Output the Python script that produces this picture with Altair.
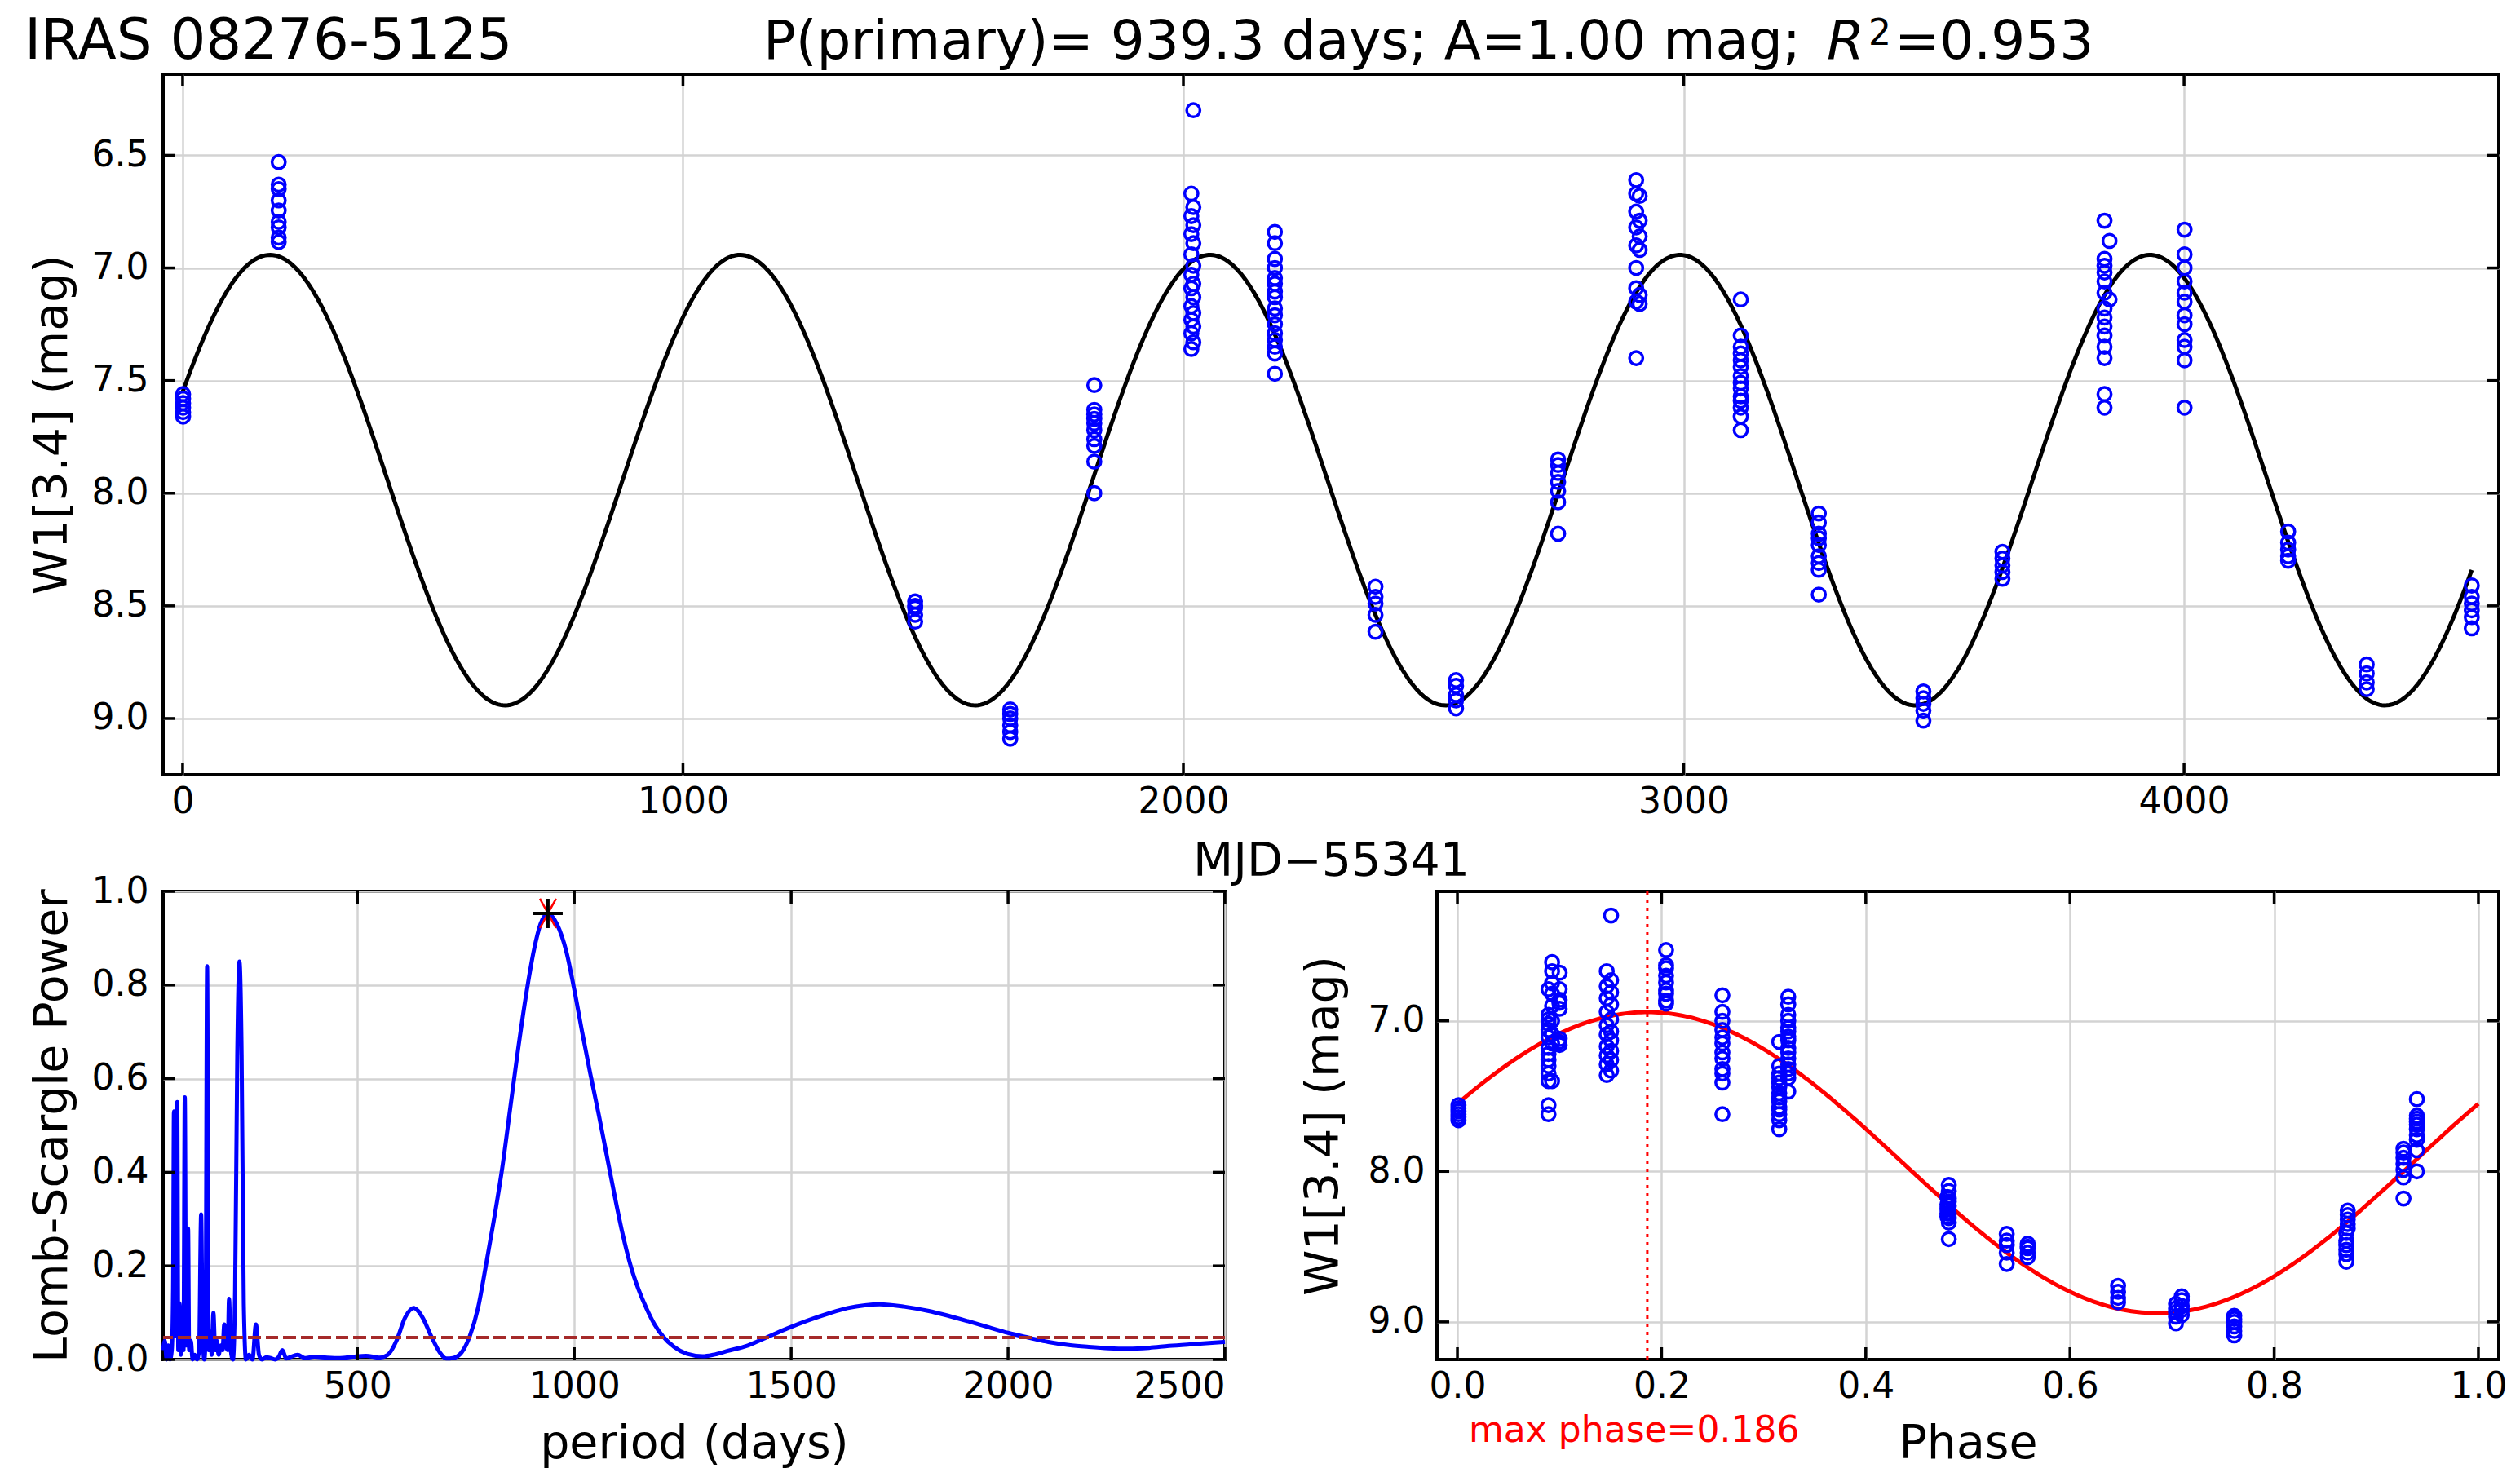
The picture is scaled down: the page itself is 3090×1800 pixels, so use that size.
import altair as alt
import numpy as np
import pandas as pd

# ---------------- data ----------------
EPOCH_T = [1, 192, 1464, 1654, 1822, 2016, 2020, 2183, 2384, 2545, 2749, 2905, 2912,
           3114, 3270, 3479, 3637, 3841, 3851, 4001, 4208, 4365, 4575]
EPOCH_W1 = [
    [7.56, 7.58, 7.60, 7.62, 7.64, 7.66],
    [6.53, 6.63, 6.65, 6.70, 6.745, 6.795, 6.82, 6.865, 6.885],
    [8.48, 8.50, 8.51, 8.54, 8.57],
    [8.96, 8.98, 9.00, 9.03, 9.06, 9.09],
    [7.52, 7.63, 7.65, 7.67, 7.69, 7.72, 7.76, 7.79, 7.86, 8.00],
    [6.67, 6.77, 6.85, 6.94, 7.03, 7.09, 7.17, 7.23, 7.29, 7.36],
    [6.30, 6.73, 6.81, 6.89, 6.99, 7.07, 7.13, 7.20, 7.26, 7.33],
    [6.84, 6.89, 6.96, 7.00, 7.045, 7.07, 7.105, 7.13, 7.18, 7.21, 7.25, 7.29, 7.32, 7.35, 7.38, 7.47],
    [8.415, 8.46, 8.49, 8.54, 8.615],
    [8.83, 8.855, 8.895, 8.92, 8.955],
    [7.85, 7.875, 7.91, 7.95, 7.99, 8.04, 8.18],
    [6.61, 6.67, 6.75, 6.82, 6.90, 7.00, 7.09, 7.15, 7.40],
    [6.68, 6.79, 6.86, 6.92, 7.12, 7.16],
    [7.14, 7.30, 7.35, 7.38, 7.41, 7.44, 7.48, 7.51, 7.535, 7.57, 7.59, 7.62, 7.66, 7.72],
    [8.09, 8.13, 8.18, 8.20, 8.23, 8.28, 8.31, 8.34, 8.45],
    [8.88, 8.91, 8.935, 8.965, 9.01],
    [8.26, 8.29, 8.32, 8.35, 8.38],
    [6.79, 6.96, 6.99, 7.02, 7.06, 7.11, 7.18, 7.22, 7.26, 7.30, 7.35, 7.40, 7.56, 7.62],
    [6.88, 7.14],
    [6.83, 6.94, 7.00, 7.06, 7.11, 7.15, 7.21, 7.25, 7.32, 7.35, 7.41, 7.62],
    [8.17, 8.22, 8.25, 8.28, 8.30],
    [8.76, 8.80, 8.84, 8.87],
    [8.41, 8.46, 8.49, 8.52, 8.55, 8.60],
]

# fitted model parameters (title / annotation)
PERIOD = 939.3
AMPLITUDE = 1.00
MEAN_MAG = 7.942
MAX_PHASE = 0.186
R2 = 0.953
FAP_LEVEL = 0.047

# Lomb-Scargle periodogram
LS_PERIOD = [52, 56, 60, 64, 68, 72, 75, 77, 79, 82, 84.6, 87, 90, 93, 96, 99, 102, 105, 107,
             109.6, 112, 116, 120, 125, 130, 135, 139.7, 143, 147, 150, 153.5, 157, 161, 164,
             168, 172, 176, 180, 185, 189, 193, 197, 201, 204, 208, 213, 218, 223, 228, 233,
             238, 243, 250, 258, 266, 273, 280, 290, 300, 310, 318, 327, 336, 345, 362, 380,
             400, 430, 460, 490, 520, 550, 570, 590, 610, 630, 650, 670, 690, 705, 720, 740,
             759, 778, 796, 815, 834, 852, 870, 889, 907, 922, 939.3, 960, 982, 1000, 1018,
             1037, 1056, 1075, 1093, 1111, 1130, 1148, 1167, 1185, 1204, 1230, 1259, 1296,
             1320, 1352, 1400, 1445, 1490, 1537, 1585, 1630, 1670, 1704, 1760, 1815, 1860,
             1907, 1955, 2000, 2046, 2093, 2140, 2186, 2232, 2278, 2325, 2371, 2430, 2500]
LS_POWER = [0.02, 0.04, 0.0, 0.03, 0.0, 0.02, 0.15, 0.53, 0.05, 0.10, 0.55, 0.02, 0.12, 0.01,
            0.04, 0.02, 0.56, 0.03, 0.05, 0.28, 0.02, 0.04, 0.0, 0.01, 0.0, 0.02, 0.31, 0.06,
            0.0, 0.05, 0.84, 0.02, 0.06, 0.01, 0.10, 0.02, 0.04, 0.01, 0.03, 0.02, 0.075, 0.03,
            0.02, 0.13, 0.02, 0.0, 0.15, 0.65, 0.85, 0.65, 0.12, 0.0, 0.01, 0.0, 0.075, 0.01,
            0.0, 0.005, 0.003, 0.0, 0.005, 0.02, 0.002, 0.005, 0.01, 0.003, 0.006, 0.004,
            0.003, 0.006, 0.008, 0.004, 0.01, 0.04, 0.09, 0.11, 0.09, 0.05, 0.015, 0.002,
            0.003, 0.015, 0.05, 0.11, 0.20, 0.30, 0.41, 0.535, 0.66, 0.78, 0.875, 0.93, 0.953,
            0.93, 0.87, 0.79, 0.70, 0.61, 0.525, 0.435, 0.35, 0.27, 0.20, 0.15, 0.108, 0.075,
            0.05, 0.027, 0.0125, 0.007, 0.01, 0.018, 0.03, 0.048, 0.066, 0.083, 0.098, 0.11,
            0.116, 0.118, 0.113, 0.104, 0.094, 0.082, 0.069, 0.057, 0.047, 0.0375, 0.031,
            0.027, 0.024, 0.023, 0.025, 0.029, 0.033, 0.0375]

TOP_X_TICKS = [0, 1000, 2000, 3000, 4000]
TOP_Y_TICKS = [6.5, 7.0, 7.5, 8.0, 8.5, 9.0]
LS_X_TICKS = [500, 1000, 1500, 2000, 2500]
LS_Y_TICKS = [0.0, 0.2, 0.4, 0.6, 0.8, 1.0]
PH_X_TICKS = [0.0, 0.2, 0.4, 0.6, 0.8, 1.0]
PH_Y_TICKS = [7.0, 8.0, 9.0]

FONT = "DejaVu Sans"
BLUE = "#0000ff"

# ---------------- tables ----------------
rows = []
for t, mags in zip(EPOCH_T, EPOCH_W1):
    for m in mags:
        rows.append({"t": t, "w1": m, "phase": (t % PERIOD) / PERIOD})
pts = pd.DataFrame(rows)

t_model = np.arange(0, 4576, 5.0)
model_top = pd.DataFrame({"t": t_model,
                          "w1": MEAN_MAG - AMPLITUDE * np.cos(2 * np.pi * (t_model / PERIOD - MAX_PHASE))})
ph_model = np.linspace(0, 1, 301)
model_ph = pd.DataFrame({"phase": ph_model,
                         "w1": MEAN_MAG - AMPLITUDE * np.cos(2 * np.pi * (ph_model - MAX_PHASE))})
ls = pd.DataFrame({"period": LS_PERIOD, "power": LS_POWER})
peak = pd.DataFrame({"period": [PERIOD], "power": [R2]})

# ---------------- sizes ----------------
W_TOP, H_TOP = 2864, 859
W_BOT, H_BOT = 1302, 574
TL = 15

sx_top = alt.Scale(domain=[-39, 4629], nice=False, zero=False)
sy_mag = alt.Scale(domain=[6.14, 9.25], reverse=True, nice=False, zero=False)
sx_ls = alt.Scale(domain=[52, 2500], nice=False, zero=False)
sy_ls = alt.Scale(domain=[0, 1], nice=False)
sx_ph = alt.Scale(domain=[-0.02, 1.02], nice=False, zero=False)

XLP = 11
ax_top_x = alt.Axis(values=TOP_X_TICKS, format="d", title="MJD\u221255341",
                    labelPadding=XLP, titlePadding=23)
ax_top_y = alt.Axis(values=TOP_Y_TICKS, format=".1f", title="W1[3.4] (mag)",
                    labelPadding=18, titlePadding=19)
ax_ls_x = alt.Axis(values=LS_X_TICKS, format="d", title="period (days)",
                   labelPadding=XLP, titlePadding=20)
ax_ls_y = alt.Axis(values=LS_Y_TICKS, format=".1f", title="Lomb-Scargle Power",
                   labelPadding=18, titlePadding=19)
ax_ph_x = alt.Axis(values=PH_X_TICKS, format=".1f", title="Phase",
                   labelPadding=XLP, titlePadding=20)
ax_ph_y = alt.Axis(values=PH_Y_TICKS, format=".1f", title="W1[3.4] (mag)",
                   labelPadding=15, titlePadding=25)


def edge_ticks(xvals, yvals, xs, ys, xa, ya, w, h):
    xd = pd.DataFrame({"v": xvals})
    yd = pd.DataFrame({"v": yvals})
    base = dict(color="black", strokeWidth=3.5)
    xb = alt.Chart(xd).mark_rule(**base).encode(
        x=alt.X("v:Q", scale=xs, axis=xa), y=alt.value(h - TL), y2=alt.value(h))
    xt = alt.Chart(xd).mark_rule(**base).encode(
        x=alt.X("v:Q", scale=xs, axis=xa), y=alt.value(0), y2=alt.value(TL))
    yl = alt.Chart(yd).mark_rule(**base).encode(
        y=alt.Y("v:Q", scale=ys, axis=ya), x=alt.value(0), x2=alt.value(TL))
    yr = alt.Chart(yd).mark_rule(**base).encode(
        y=alt.Y("v:Q", scale=ys, axis=ya), x=alt.value(w - TL), x2=alt.value(w))
    return [xb, xt, yl, yr]


def text_layer(s, x, y, size, color="black", style="normal", align="left"):
    return alt.Chart(pd.DataFrame({"s": [s]})).mark_text(
        font=FONT, fontSize=size, color=color, fontStyle=style, align=align,
        baseline="alphabetic").encode(text="s:N", x=alt.value(x), y=alt.value(y))


# ---------------- top panel ----------------
top_line = alt.Chart(model_top).mark_line(color="black", strokeWidth=5).encode(
    x=alt.X("t:Q", scale=sx_top, axis=ax_top_x),
    y=alt.Y("w1:Q", scale=sy_mag, axis=ax_top_y),
)
top_pts = alt.Chart(pts).mark_point(shape="circle", size=265, strokeWidth=3.5,
                                    color=BLUE, filled=False, opacity=1).encode(
    x=alt.X("t:Q", scale=sx_top, axis=ax_top_x), y=alt.Y("w1:Q", scale=sy_mag, axis=ax_top_y))

TB = -18.6
titles = [
    text_layer("IRAS 08276-5125", -170, TB, 69),
    text_layer("P(primary)= 939.3 days; A=1.00 mag;", 736, TB, 66),
    text_layer("R", 2040, TB, 66, style="italic"),
    text_layer("2", 2091, TB - 17.3, 44),
    text_layer("=0.953", 2123, TB, 66),
]

top = alt.layer(top_line, top_pts,
                *edge_ticks(TOP_X_TICKS, TOP_Y_TICKS, sx_top, sy_mag, ax_top_x, ax_top_y, W_TOP, H_TOP),
                *titles).properties(width=W_TOP, height=H_TOP)

# ---------------- periodogram ----------------
ls_line = alt.Chart(ls).mark_line(color=BLUE, strokeWidth=5, interpolate="monotone").encode(
    x=alt.X("period:Q", scale=sx_ls, axis=ax_ls_x),
    y=alt.Y("power:Q", scale=sy_ls, axis=ax_ls_y),
)
fap = alt.Chart(ls).mark_rule(color="#a52a2a", strokeWidth=4, strokeDash=[15, 6.5]).encode(
    y=alt.datum(FAP_LEVEL, scale=sy_ls, axis=ax_ls_y))
star_x = alt.Chart(peak).mark_point(shape="M-0.55,-1L0.55,1M0.55,-1L-0.55,1", size=1300,
                                    color="red", strokeWidth=2.5, filled=False, opacity=1).encode(
    x=alt.X("period:Q", scale=sx_ls, axis=ax_ls_x), y=alt.Y("power:Q", scale=sy_ls, axis=ax_ls_y))
star_p = alt.Chart(peak).mark_point(shape="M-1,0L1,0M0,-1L0,1", size=1300,
                                    color="black", strokeWidth=4, filled=False, opacity=1).encode(
    x=alt.X("period:Q", scale=sx_ls, axis=ax_ls_x), y=alt.Y("power:Q", scale=sy_ls, axis=ax_ls_y))

left = alt.layer(ls_line, fap, star_x, star_p,
                 *edge_ticks(LS_X_TICKS, LS_Y_TICKS, sx_ls, sy_ls, ax_ls_x, ax_ls_y, W_BOT, H_BOT)
                 ).properties(width=W_BOT, height=H_BOT)

# ---------------- phase panel ----------------
ph_line = alt.Chart(model_ph).mark_line(color="red", strokeWidth=5).encode(
    x=alt.X("phase:Q", scale=sx_ph, axis=ax_ph_x),
    y=alt.Y("w1:Q", scale=sy_mag, axis=ax_ph_y),
)
ph_pts = alt.Chart(pts).mark_point(shape="circle", size=265, strokeWidth=3.5,
                                   color=BLUE, filled=False, opacity=1).encode(
    x=alt.X("phase:Q", scale=sx_ph, axis=ax_ph_x), y=alt.Y("w1:Q", scale=sy_mag, axis=ax_ph_y))
ph_max = alt.Chart(peak).mark_rule(color="red", strokeWidth=3, strokeDash=[4, 6]).encode(
    x=alt.datum(MAX_PHASE, scale=sx_ph, axis=ax_ph_x))
ph_txt = text_layer("max phase=0.186", 39, 675, 44, color="red")

right = alt.layer(ph_line, ph_pts, ph_max, ph_txt,
                  *edge_ticks(PH_X_TICKS, PH_Y_TICKS, sx_ph, sy_mag, ax_ph_x, ax_ph_y, W_BOT, H_BOT)
                  ).properties(width=W_BOT, height=H_BOT)

bottom = alt.hconcat(left, right, spacing=260, bounds="flush").resolve_scale(x="independent", y="independent")

chart = alt.vconcat(top, bottom, spacing=143, bounds="flush").resolve_scale(
    x="independent", y="independent"
).properties(
    padding={"left": 20, "top": 7, "right": 0, "bottom": 0}
).configure_view(
    stroke="black", strokeWidth=4
).configure_axis(
    labelFont=FONT, titleFont=FONT, labelFontSize=44, titleFontSize=57,
    titleFontWeight="normal", labelColor="black", titleColor="black",
    grid=True, gridColor="#d3d3d3", gridWidth=2.5, domain=False, ticks=False, tickSize=0,
)

chart.save("out.html", embed_options={"renderer": "svg", "actions": False})
